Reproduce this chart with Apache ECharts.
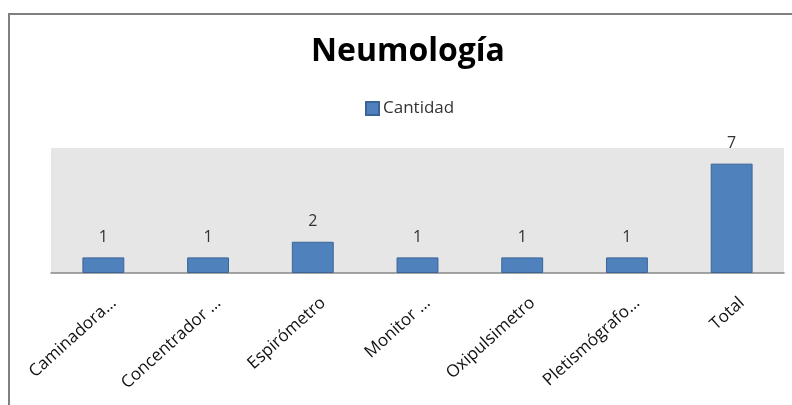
<!DOCTYPE html>
<html>
<head>
<meta charset="utf-8">
<script src="https://cdn.jsdelivr.net/npm/echarts@6/dist/echarts.min.js"></script>
<style>
    html, body { margin: 0; padding: 0; background: #fff; }
    #chart { width: 792px; height: 405px; }
</style>
</head>
<body>
<div id="chart"></div>
<script>
    // datos del grafico
    var categorias = ['Caminadora…', 'Concentrador …', 'Espirómetro', 'Monitor …', 'Oxipulsimetro', 'Pletismógrafo…', 'Total'];
    var cantidad = [1, 1, 2, 1, 1, 1, 7];
    var yMin = 0;
    var yMax = 8;

    var chart = echarts.init(document.getElementById('chart'));
    chart.setOption({
        backgroundColor: '#ffffff',
        textStyle: { fontFamily: 'Open Sans' },
        title: {
            text: 'Neumología',
            left: 306,
            top: 31,
            textStyle: { fontFamily: 'Open Sans', fontWeight: 'bold', fontSize: 32, color: '#000' }
        },
        legend: {
            data: ['Cantidad'],
            top: 95,
            left: 360,
            icon: 'rect',
            itemWidth: 13,
            itemHeight: 13,
            itemGap: 4,
            textStyle: { fontFamily: 'Open Sans', fontSize: 17, color: '#333', padding: [0, 0, 0, -1] }
        },
        // marco del grafico
        graphic: [
            { type: 'line', shape: { x1: 8, y1: 14, x2: 792, y2: 14 }, style: { stroke: '#808080', lineWidth: 2 } },
            { type: 'line', shape: { x1: 9, y1: 13, x2: 9, y2: 405 }, style: { stroke: '#808080', lineWidth: 2 } }
        ],
        grid: {
            left: 51,
            right: 8,
            top: 148,
            bottom: 132,
            show: true,
            backgroundColor: '#E6E6E6',
            borderWidth: 0
        },
        xAxis: {
            type: 'category',
            data: categorias,
            axisLine: { lineStyle: { color: '#888888', width: 1.5 } },
            axisTick: { show: false },
            axisLabel: {
                rotate: 42,
                interval: 0,
                margin: 16,
                verticalAlign: 'top',
                padding: [7, 0, 0, 0],
                fontFamily: 'Open Sans',
                fontSize: 17,
                color: '#111'
            }
        },
        yAxis: {
            type: 'value',
            min: yMin,
            max: yMax,
            show: false,
            splitLine: { show: false }
        },
        series: [{
            name: 'Cantidad',
            type: 'bar',
            data: cantidad,
            barWidth: '40%',
            itemStyle: {
                color: '#4F81BD',
                borderColor: '#3B6497',
                borderWidth: 1
            },
            label: {
                show: true,
                position: 'top',
                distance: 12,
                fontFamily: 'Open Sans',
                fontSize: 16,
                color: '#333'
            }
        }]
    });
</script>
</body>
</html>
